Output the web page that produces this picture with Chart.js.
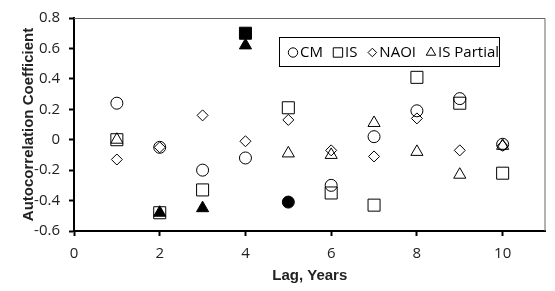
<!DOCTYPE html>
<html>
<head>
<meta charset="utf-8">
<script src="https://cdn.jsdelivr.net/npm/chart.js@4.4.1/dist/chart.umd.min.js"></script>
<style>
  html, body { margin: 0; padding: 0; background: #fff; }
  #wrap { width: 555px; height: 291px; }
</style>
</head>
<body>
<div id="wrap"><canvas id="lagChart"></canvas></div>
<script>
// Lags (years) and autocorrelation per series
const lags = [1, 2, 3, 4, 5, 6, 7, 8, 9, 10];
const cmValues = [0.24, -0.05, -0.20, -0.12, -0.41, -0.30, 0.02, 0.19, 0.27, -0.03];
const isValues = [0.00, -0.48, -0.33, 0.70, 0.21, -0.35, -0.43, 0.41, 0.24, -0.22];
const naoiValues = [-0.13, -0.05, 0.16, -0.01, 0.13, -0.07, -0.11, 0.14, -0.07, -0.04];
const isPartialValues = [0.00, -0.48, -0.45, 0.62, -0.09, -0.10, 0.11, -0.08, -0.23, -0.04];

// lags where the marker is filled (significant)
const cmFilled = [5];
const isFilled = [4];
const naoiFilled = [];
const isPartialFilled = [2, 3, 4];

const yTicks = [-0.6, -0.4, -0.2, 0, 0.2, 0.4, 0.6, 0.8];
const xTicks = [0, 2, 4, 6, 8, 10];

const TICK_FONT = { family: '"Open Sans", "Noto Sans", sans-serif', size: 15 };
const TITLE_FONT = { family: '"Liberation Sans", Arial, sans-serif', size: 15, weight: 'bold' };

function serie(label, values, filled, style, radius) {
    return {
        label: label,
        data: lags.map((x, i) => ({ x: x, y: values[i] })),
        pointStyle: style,
        pointRadius: radius,
        pointHoverRadius: radius,
        borderColor: '#000',
        pointBorderColor: '#000',
        pointBorderWidth: 1,
        pointBackgroundColor: lags.map(x => filled.includes(x) ? '#000' : 'rgba(0,0,0,0)'),
        backgroundColor: 'rgba(0,0,0,0)',
        showLine: false
    };
}

// frame on top/right + legend box inside the plot
const framePlugin = {
    id: 'frame',
    afterDraw(chart) {
        const { ctx, chartArea } = chart;
        ctx.save();
        ctx.strokeStyle = '#666';
        ctx.lineWidth = 1;
        ctx.beginPath();
        ctx.moveTo(chartArea.left, chartArea.top + 0.5);
        ctx.lineTo(chartArea.right - 0.5, chartArea.top + 0.5);
        ctx.lineTo(chartArea.right - 0.5, chartArea.bottom);
        ctx.stroke();

        // leyenda
        const boxLeft = chartArea.left + 205;
        const boxTop = chartArea.top + 19;
        const boxW = 220, boxH = 29;
        ctx.fillStyle = '#fff';
        ctx.fillRect(boxLeft, boxTop, boxW, boxH);
        ctx.strokeStyle = '#000';
        ctx.strokeRect(boxLeft + 0.5, boxTop + 0.5, boxW, boxH);

        ctx.font = '15px "Open Sans", "Noto Sans", sans-serif';
        ctx.textBaseline = 'middle';
        ctx.fillStyle = '#000';
        const cy = boxTop + boxH / 2 + 1;
        let x = boxLeft + 14;
        chart.data.datasets.forEach(ds => {
            ctx.save();
            ctx.strokeStyle = '#000';
            ctx.fillStyle = 'rgba(0,0,0,0)';
            ctx.lineWidth = 1;
            Chart.helpers.drawPoint(ctx, {
                pointStyle: ds.pointStyle,
                radius: ds.pointRadius * 0.78,
                rotation: 0,
                borderWidth: 1
            }, x, cy);
            ctx.restore();
            ctx.fillStyle = '#000';
            ctx.fillText(ds.label, x + 7, cy);
            x += 7 + ctx.measureText(ds.label).width + 15;
        });
        ctx.restore();
    }
};

new Chart(document.getElementById('lagChart'), {
    type: 'scatter',
    data: {
        datasets: [
            serie('CM', cmValues, cmFilled, 'circle', 6),
            serie('IS', isValues, isFilled, 'rect', 8.5),
            serie('NAOI', naoiValues, naoiFilled, 'rectRot', 5.5),
            serie('IS Partial', isPartialValues, isPartialFilled, 'triangle', 7)
        ]
    },
    options: {
        responsive: true,
        maintainAspectRatio: false,
        animation: false,
        layout: { padding: { left: 0, top: 12, right: 6, bottom: 0 } },
        plugins: {
            legend: { display: false },
            tooltip: { enabled: false }
        },
        scales: {
            x: {
                type: 'linear',
                min: 0,
                max: 11,
                afterFit: s => { s.height = 60; },
                afterBuildTicks: s => { s.ticks = xTicks.map(v => ({ value: v })); },
                ticks: { font: TICK_FONT, color: '#222', padding: 9, includeBounds: false },
                grid: { display: true, drawOnChartArea: false, drawTicks: true, tickLength: 5, tickColor: '#000', tickWidth: 2 },
                border: { display: true, color: '#000', width: 2 },
                title: { display: true, text: 'Lag, Years', font: TITLE_FONT, color: '#222', padding: { top: 6, bottom: 6 } }
            },
            y: {
                min: -0.6,
                max: 0.8,
                afterFit: s => { s.width = 74; },
                afterBuildTicks: s => { s.ticks = yTicks.map(v => ({ value: v })); },
                ticks: {
                    font: TICK_FONT,
                    color: '#222',
                    padding: 9,
                    callback: v => (Math.abs(v) < 1e-9 ? '0' : v.toFixed(1))
                },
                grid: { display: true, drawOnChartArea: false, drawTicks: true, tickLength: 5, tickColor: '#000', tickWidth: 2 },
                border: { display: true, color: '#000', width: 2 },
                title: { display: true, text: 'Autocorrelation Coefficient', font: TITLE_FONT, color: '#222', padding: { top: 20, bottom: 4 } }
            }
        }
    },
    plugins: [framePlugin]
});
</script>
</body>
</html>
